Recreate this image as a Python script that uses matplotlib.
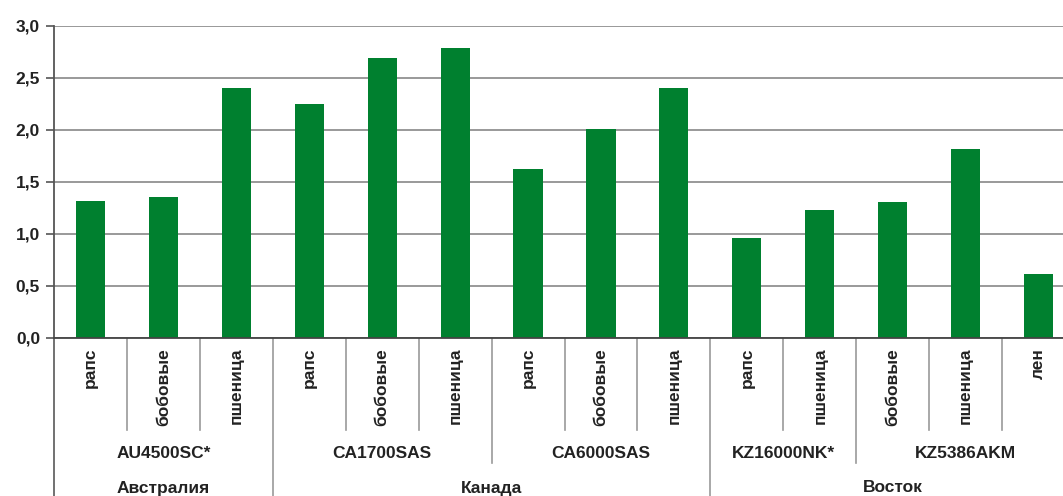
import matplotlib
matplotlib.use("Agg")
import matplotlib.pyplot as plt
import matplotlib.transforms as mtransforms
import numpy as np

plt.rcParams['font.family'] = ['Liberation Sans', 'DejaVu Sans']

# Data
crops = ["рапс", "бобовые", "пшеница",
         "рапс", "бобовые", "пшеница",
         "рапс", "бобовые", "пшеница",
         "рапс", "пшеница",
         "бобовые", "пшеница", "лен"]
values = [1.32, 1.35, 2.40,
          2.25, 2.69, 2.79,
          1.62, 2.01, 2.40,
          0.96, 1.23,
          1.31, 1.82, 0.61]
farms = ["AU4500SC*", "CA1700SAS", "CA6000SAS", "KZ16000NK*", "KZ5386AKM"]
farm_sizes = [3, 3, 3, 2, 3]
regions = ["Австралия", "Канада", "Восток"]
region_sizes = [3, 6, 5]
y_ticks = [0.0, 0.5, 1.0, 1.5, 2.0, 2.5, 3.0]

W, H = 1063, 496
fig = plt.figure(figsize=(W / 100, H / 100), dpi=100)
ax = fig.add_axes([54 / W, 1 - 338 / H, (1075 - 54) / W, (338 - 25.7) / H])

green = "#00802F"
text_color = "#222222"
fs = 12.5

x = np.arange(len(values))
ax.bar(x, values, width=0.4, color=green, zorder=3)

ax.set_xlim(-0.5, len(values) - 0.5)
ax.set_ylim(0, 3.0)
ax.set_yticks(y_ticks)
ax.set_yticklabels([f"{v:.1f}".replace(".", ",") for v in y_ticks],
                   fontsize=fs, fontweight="bold", color=text_color)
ax.tick_params(axis="y", length=6, width=1.2, color="#555555", pad=4)
ax.set_xticks([])
ax.grid(axis="y", color="#888888", linewidth=1.2, zorder=0)
for side in ["top", "right", "bottom"]:
    ax.spines[side].set_visible(False)
ax.spines["left"].set_color("#555555")
ax.spines["left"].set_linewidth(1.3)
ax.axhline(0, color="#444444", linewidth=1.3, zorder=4, clip_on=False)

# Hierarchical category axis below the plot
trans = mtransforms.blended_transform_factory(ax.transData, fig.transFigure)

def fy(px):
    return 1 - px / H

line_kw = dict(transform=trans, clip_on=False, color="#9a9a9a", linewidth=1.2)

farm_edges = set(np.cumsum(farm_sizes)[:-1])
region_edges = set(np.cumsum(region_sizes)[:-1])
for b in range(1, len(values)):
    if b in region_edges:
        bottom = 496
    elif b in farm_edges:
        bottom = 463
    else:
        bottom = 430
    ax.plot([b - 0.5, b - 0.5], [fy(338), fy(bottom)], **line_kw)
ax.plot([-0.5, -0.5], [fy(338), fy(496)], transform=trans, clip_on=False,
        color="#666666", linewidth=1.3)

for i, c in enumerate(crops):
    ax.text(i, fy(348), c, transform=trans, rotation=90, ha="center", va="top",
            fontsize=fs, fontweight="bold", color=text_color)

start = 0
for name, n in zip(farms, farm_sizes):
    ax.text(start + (n - 1) / 2, fy(453), name, transform=trans, ha="center",
            va="center", fontsize=fs, fontweight="bold", color=text_color)
    start += n

start = 0
for name, n in zip(regions, region_sizes):
    ax.text(start + (n - 1) / 2, fy(488), name, transform=trans, ha="center",
            va="center", fontsize=fs, fontweight="bold", color=text_color)
    start += n

fig.savefig("out.png", dpi=100)
